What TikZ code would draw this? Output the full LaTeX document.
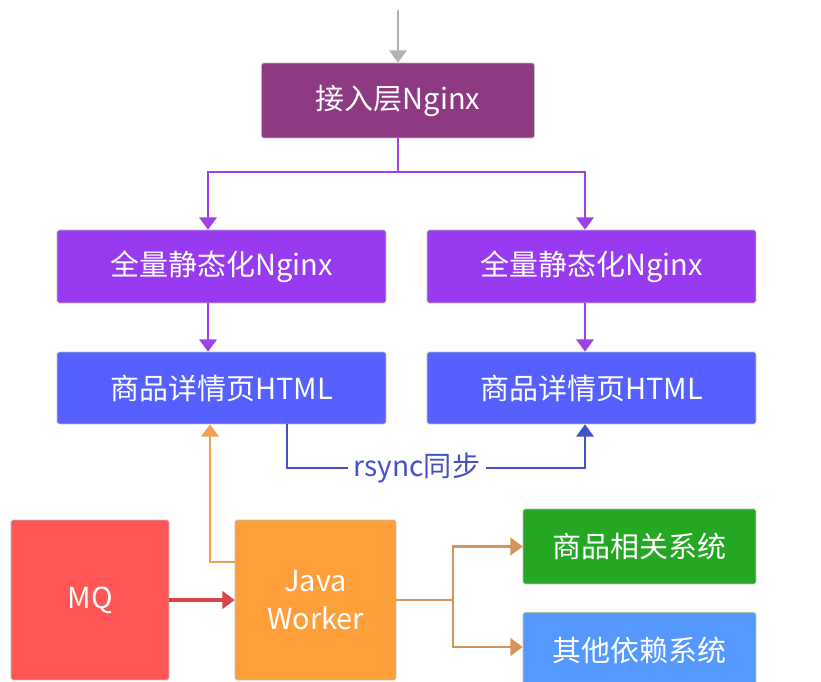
\documentclass[tikz,border=0pt]{standalone}
\usepackage{fontspec}
\setmainfont{Noto Sans CJK SC}
\usepackage{tikz}
\usetikzlibrary{arrows, arrows.meta, positioning, calc}
\definecolor{topcol}{RGB}{142,58,130}
\definecolor{fullcol}{RGB}{152,58,240}
\definecolor{htmlcol}{RGB}{85,96,255}
\definecolor{linkcol}{RGB}{162,64,232}
\definecolor{mqcol}{RGB}{255,85,85}
\definecolor{javacol}{RGB}{255,159,58}
\definecolor{javalink}{RGB}{240,160,80}
\definecolor{goodscol}{RGB}{36,168,36}
\definecolor{othercol}{RGB}{85,153,255}
\definecolor{synccol}{RGB}{68,80,200}
\definecolor{workcol}{RGB}{214,148,90}
\tikzstyle{arrow} = [line width=1pt,->,>={Triangle[length=7pt,width=10pt]}]
\tikzstyle{box} = [rectangle, rounded corners=1pt, draw=black!25, text=white, align=center, inner sep=0pt, font=\fontsize{16.5}{22}\selectfont]

\begin{document}
\begin{tikzpicture}[x=0.02cm, y=-0.02cm]
    \useasboundingbox (0,0) rectangle (821,682);

    % Nginx layers
    \node (access) at (398,100.5) [box, fill=topcol, minimum width=5.46cm, minimum height=1.5cm] {接入层Nginx};
    \node (fullL) at (221.5,266.5) [box, fill=fullcol, minimum width=6.58cm, minimum height=1.46cm] {全量静态化Nginx};
    \node (fullR) at (591.5,266.5) [box, fill=fullcol, minimum width=6.58cm, minimum height=1.46cm] {全量静态化Nginx};
    \node (htmlL) at (221.5,388) [box, fill=htmlcol, minimum width=6.58cm, minimum height=1.44cm] {商品详情页HTML};
    \node (htmlR) at (591.5,388) [box, fill=htmlcol, minimum width=6.58cm, minimum height=1.44cm] {商品详情页HTML};

    % Workers and systems
    \node (mq) at (90,600) [box, fill=mqcol, minimum width=3.16cm, minimum height=3.2cm] {MQ};
    \node (java) at (315.5,600) [box, fill=javacol, minimum width=3.22cm, minimum height=3.2cm] {Java\\Worker};
    \node (goods) at (639.5,546.5) [box, fill=goodscol, minimum width=4.66cm, minimum height=1.5cm] {商品相关系统};
    \node (other) at (639.5,650) [box, fill=othercol, minimum width=4.66cm, minimum height=1.5cm] {其他依赖系统};

    % Entry
    \coordinate (entry) at (398,10);
    \draw[arrow, black!30] (entry) -- (access.north);

    % Fan out
    \coordinate (split) at (398,172);
    \draw[line width=1pt, linkcol] (access.south) -- (split);
    \draw[arrow, linkcol] (split) -| ([xshift=-0.27cm]fullL.north);
    \draw[arrow, linkcol] (split) -| ([xshift=-0.13cm]fullR.north);
    \draw[arrow, linkcol] ([xshift=-0.27cm]fullL.south) -- ([xshift=-0.27cm]htmlL.north);
    \draw[arrow, linkcol] ([xshift=-0.13cm]fullR.south) -- ([xshift=-0.13cm]htmlR.north);

    % rsync
    \node (rsync) at (417,468) [text=synccol, font=\fontsize{16}{18}\selectfont] {rsync同步};
    \draw[line width=1pt, synccol] ([xshift=1.31cm]htmlL.south) |- (rsync.west);
    \draw[arrow, synccol] (rsync.east) -| ([xshift=-0.13cm]htmlR.south);

    % Java worker links
    \draw[arrow, javalink] ([yshift=0.76cm]java.west) -| ([xshift=-0.23cm]htmlL.south);
    \draw[arrow, line width=2pt, mqcol!85!black] (mq.east |- java.west) -- (java.west);
    \coordinate (fork) at (453,600);
    \draw[line width=1.5pt, workcol] (java.east) -- (fork);
    \draw[arrow, line width=1.5pt, workcol] (fork) |- (goods.west);
    \draw[arrow, line width=1.5pt, workcol] (fork) |- ([yshift=0.06cm]other.west);
\end{tikzpicture}
\end{document}
